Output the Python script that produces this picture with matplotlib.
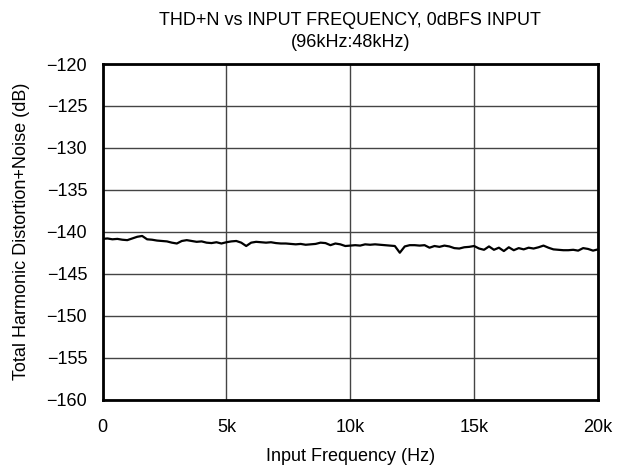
import matplotlib
matplotlib.use("Agg")
import matplotlib.pyplot as plt

plt.rcParams['font.family'] = ['Liberation Sans', 'DejaVu Sans']

# sampling grid of the measurement (Hz)
freq_hz = list(range(0, 20001, 200))

thdn_db = [
    -140.85, -140.80, -140.90, -140.85, -140.95, -141.00, -140.80, -140.60, -140.50, -140.90,
    -140.95, -141.05, -141.10, -141.15, -141.30, -141.40, -141.10, -141.00, -141.10, -141.20,
    -141.15, -141.30, -141.35, -141.25, -141.40,
    -141.25, -141.15, -141.10, -141.30, -141.70, -141.30, -141.20, -141.25, -141.30, -141.25,
    -141.35, -141.40, -141.40, -141.45, -141.50, -141.45, -141.55, -141.50, -141.45, -141.30,
    -141.35, -141.60, -141.40, -141.50, -141.70,
    -141.65, -141.60, -141.65, -141.50, -141.55, -141.50, -141.55, -141.60, -141.65, -141.70,
    -142.50, -141.75, -141.60, -141.60, -141.65, -141.60, -141.90, -141.70, -141.80, -141.65,
    -141.75, -141.95, -142.00, -141.85, -141.80, -141.70,
    -142.00, -142.15, -141.75, -142.15, -141.90, -142.30, -141.85, -142.20, -141.95, -142.10,
    -141.90, -142.00, -141.85, -141.65, -141.90, -142.10, -142.15, -142.20, -142.20, -142.15,
    -142.25, -141.95, -142.05, -142.25, -142.10,
]

x_ticks = [0, 5000, 10000, 15000, 20000]
x_labels = ["0", "5k", "10k", "15k", "20k"]
y_ticks = [-160, -155, -150, -145, -140, -135, -130, -125, -120]

fig = plt.figure(figsize=(6.34, 4.70), dpi=100)
ax = fig.add_axes([0.1617, 0.150, 0.7815, 0.7138])

ax.plot(freq_hz, thdn_db, color="black", lw=1.6, zorder=3)

ax.set_xlim(0, 20000)
ax.set_ylim(-160, -120)
ax.set_xticks(x_ticks)
ax.set_xticklabels(x_labels)
ax.set_yticks(y_ticks)
ax.set_yticklabels([f"\u2212{abs(v)}" for v in y_ticks])
ax.tick_params(length=0, labelsize=13)
ax.tick_params(axis="y", pad=11)
ax.tick_params(axis="x", pad=14)

ax.grid(True, color="#444444", lw=1.0)
for s in ax.spines.values():
    s.set_linewidth(2.0)
    s.set_zorder(4)

ax.set_title("THD+N vs INPUT FREQUENCY, 0dBFS INPUT\n(96kHz:48kHz)", fontsize=13, pad=12, linespacing=1.4)
ax.set_xlabel("Input Frequency (Hz)", fontsize=13, labelpad=9)
ax.set_ylabel("Total Harmonic Distortion+Noise (dB)", fontsize=13, labelpad=12)

fig.savefig("out.png", dpi=100)
